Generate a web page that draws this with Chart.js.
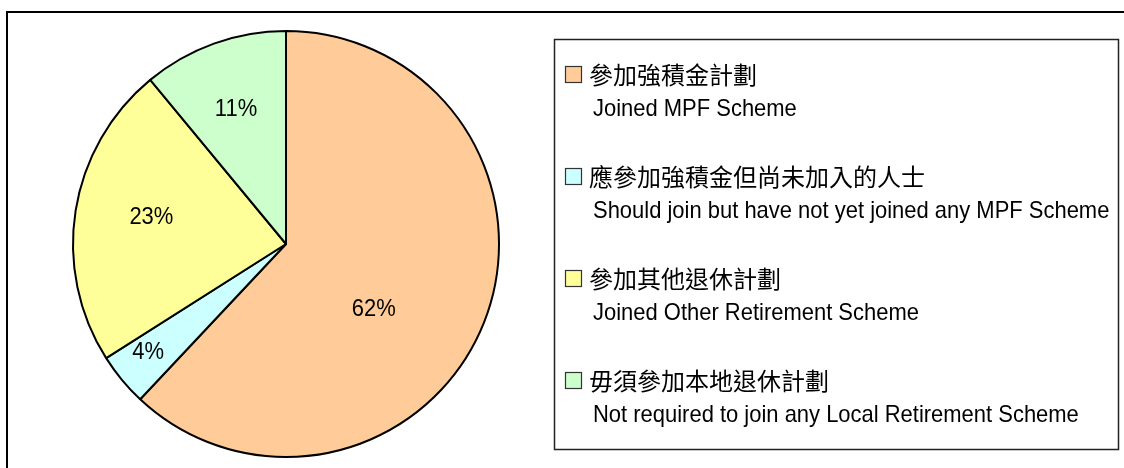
<!DOCTYPE html>
<html>
<head>
<meta charset="utf-8">
<script src="https://cdn.jsdelivr.net/npm/chart.js@4.4.0/dist/chart.umd.min.js"></script>
<style>
  body { margin: 0; background: #fff; }
  canvas { display: block; }
</style>
</head>
<body>
<canvas id="chart" width="1124" height="468"></canvas>
<script>
// slice data, in drawing order (clockwise from 12 o'clock)
const labelsZh = ['參加強積金計劃', '應參加強積金但尚未加入的人士', '參加其他退休計劃', '毋須參加本地退休計劃'];
const labelsEn = ['Joined MPF Scheme', 'Should join but have not yet joined any MPF Scheme', 'Joined Other Retirement Scheme', 'Not required to join any Local Retirement Scheme'];
const shares = [62, 4, 23, 11];
const sliceColors = ['#FFCC99', '#CCFFFF', '#FFFF99', '#CCFFCC'];

const enFont = '24px "Liberation Sans", Arial, sans-serif';
const zhFont = '24px "Noto Sans CJK TC", "Noto Sans CJK SC", sans-serif';
const squeeze = 0.915; // the latin text in the original is narrow and tall

// where each percentage sits inside its slice: [fraction along arc, fraction of radius]
const labelSpot = [[0.565, 0.51], [0.62, 0.82], [0.53, 0.645], [0.49, 0.68]];

function narrowText(ctx, text, x, y) {
    ctx.save();
    ctx.translate(x, y);
    ctx.scale(squeeze, 1);
    ctx.fillText(text, 0, 0);
    ctx.restore();
}

const sliceLabels = {
    id: 'sliceLabels',
    afterDatasetsDraw(chart) {
        const ctx = chart.ctx;
        const meta = chart.getDatasetMeta(0);
        ctx.save();
        ctx.font = enFont;
        ctx.fillStyle = '#000';
        ctx.textAlign = 'center';
        ctx.textBaseline = 'middle';
        meta.data.forEach(function (arc, i) {
            const p = arc.getProps(['x', 'y', 'startAngle', 'endAngle', 'outerRadius'], true);
            const a = p.startAngle + (p.endAngle - p.startAngle) * labelSpot[i][0];
            const r = p.outerRadius * labelSpot[i][1];
            narrowText(ctx, chart.data.datasets[0].data[i] + '%', p.x + Math.cos(a) * r, p.y + Math.sin(a) * r + 1);
        });
        ctx.restore();
    }
};

const boxLegend = {
    id: 'boxLegend',
    afterDraw(chart) {
        const ctx = chart.ctx;
        ctx.save();
        // outer frame (runs off the right and bottom edge)
        ctx.strokeStyle = '#000';
        ctx.lineWidth = 2;
        ctx.strokeRect(7, 12, 1140, 480);

        // legend box
        ctx.lineWidth = 1.5;
        ctx.strokeStyle = '#222';
        ctx.strokeRect(554.5, 39.5, 564, 410);

        const colors = chart.data.datasets[0].backgroundColor;
        ctx.textAlign = 'left';
        ctx.textBaseline = 'middle';
        labelsZh.forEach(function (zh, i) {
            const y = 74 + i * 102;
            ctx.fillStyle = colors[i];
            ctx.fillRect(565, y - 8, 17, 17);
            ctx.lineWidth = 1.2;
            ctx.strokeStyle = '#333';
            ctx.strokeRect(565.5, y - 7.5, 16, 16);
            ctx.fillStyle = '#000';
            ctx.font = zhFont;
            ctx.fillText(zh, 589, y + 1);
            ctx.font = enFont;
            narrowText(ctx, labelsEn[i], 593, y + 35);
        });
        ctx.restore();
    }
};

new Chart(document.getElementById('chart'), {
    type: 'pie',
    data: {
        labels: labelsEn,
        datasets: [{
            data: shares,
            backgroundColor: sliceColors,
            borderColor: '#000',
            borderWidth: 2
        }]
    },
    options: {
        responsive: false,
        animation: false,
        layout: { padding: { left: 72, top: 30, right: 624, bottom: 10 } },
        plugins: {
            legend: { display: false },
            tooltip: { enabled: false }
        }
    },
    plugins: [sliceLabels, boxLegend]
});
</script>
</body>
</html>
